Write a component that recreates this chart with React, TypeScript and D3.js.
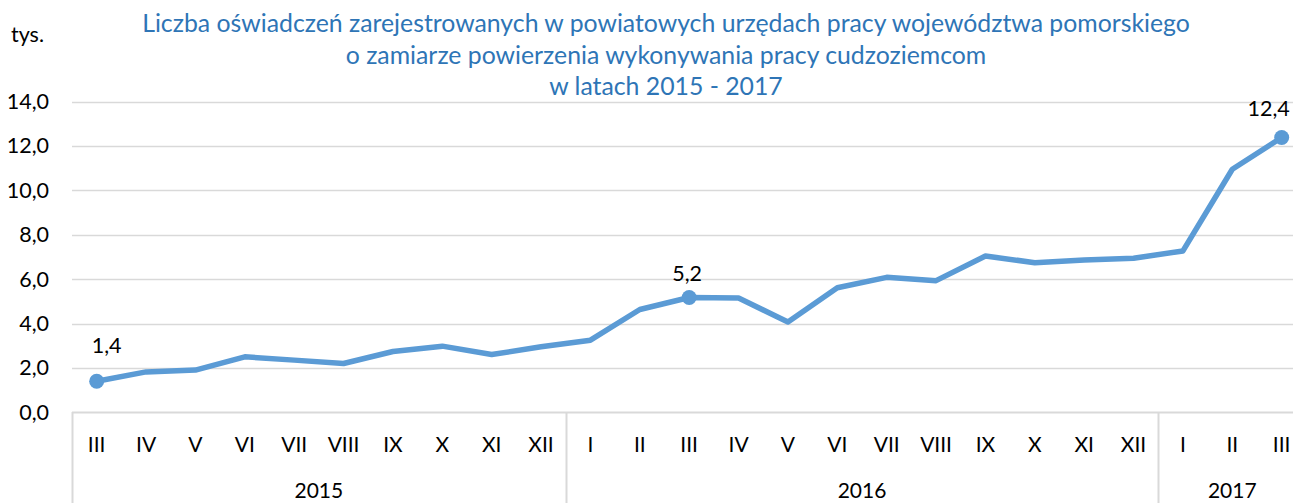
import React from "react";
import * as d3 from "d3";

const months: string[] = [
  "III", "IV", "V", "VI", "VII", "VIII", "IX", "X", "XI", "XII",
  "I", "II", "III", "IV", "V", "VI", "VII", "VIII", "IX", "X", "XI", "XII",
  "I", "II", "III",
];
const years: string[] = ["2015", "2016", "2017"];
const yearCounts: number[] = [10, 12, 3];
const values: number[] = [
  1.4, 1.82, 1.9, 2.5, 2.35, 2.2, 2.74, 2.98, 2.6, 2.95,
  3.25, 4.63, 5.17, 5.15, 4.07, 5.61, 6.08, 5.93, 7.04, 6.74, 6.86, 6.94,
  7.27, 10.95, 12.38,
];
const labelled: { index: number; text: string; dx: number; dy: number }[] = [
  { index: 0, text: "1,4", dx: 10, dy: -28 },
  { index: 12, text: "5,2", dx: -2, dy: -17 },
  { index: 24, text: "12,4", dx: -13, dy: -21 },
];
const yTicks: number[] = [0, 2, 4, 6, 8, 10, 12, 14];
const titleLines: string[] = [
  "Liczba oświadczeń zarejestrowanych w powiatowych urzędach pracy województwa pomorskiego",
  "o zamiarze powierzenia wykonywania pracy cudzoziemcom",
  "w latach 2015 - 2017",
];

const W = 1293;
const H = 503;
const FONT = "Lato, 'Open Sans', sans-serif";
const LINE = "#5B9BD5";
const GRID = "#d9d9d9";

export default function App() {
  const left = 72;
  const step = 49.375;
  const keys = months.map((_, i) => String(i));
  const x = d3
    .scaleBand<string>()
    .domain(keys)
    .range([left, left + step * months.length])
    .paddingInner(0)
    .paddingOuter(0);
  const y = d3.scaleLinear().domain([0, 14]).range([412.3, 101.5]);
  const cx = (i: number) => (x(String(i)) as number) + x.bandwidth() / 2;

  const line = d3
    .line<number>()
    .x((_, i) => cx(i))
    .y((d) => y(d));

  const fmt = (v: number) => v.toFixed(1).replace(".", ",");

  let acc = 0;
  const groups = years.map((yr, gi) => {
    const start = acc;
    acc += yearCounts[gi];
    return { yr, start, end: acc };
  });
  const rightEnd = left + step * months.length;
  const bandX = (i: number) =>
    i < months.length ? (x(String(i)) as number) : rightEnd;

  return (
    <svg
      width={W}
      height={H}
      style={{ position: "absolute", left: 0, top: 0, background: "#fff" }}
      fontFamily={FONT}
    >
      <rect x={0} y={0} width={W} height={H} fill="#fff" />
      {yTicks.map((t) => (
        <line
          key={t}
          x1={left}
          x2={W}
          y1={Math.round(y(t)) + 0.5}
          y2={Math.round(y(t)) + 0.5}
          stroke={GRID}
          strokeWidth={t === 0 ? 2 : 1.5}
        />
      ))}
      {yTicks.map((t) => (
        <text
          key={"l" + t}
          x={49}
          y={y(t)}
          dy="0.35em"
          textAnchor="end"
          fontSize={21.5}
          fill="#000"
        >
          {fmt(t)}
        </text>
      ))}
      <text x={11} y={42} fontSize={21.5} fill="#000">
        tys.
      </text>
      {titleLines.map((t, i) => (
        <text
          key={"t" + i}
          x={666}
          y={32 + i * 31.5}
          textAnchor="middle"
          fontSize={24.8}
          fill="#2E75B6"
        >
          {t}
        </text>
      ))}
      {groups.map((g, gi) => (
        <line
          key={"s" + gi}
          x1={Math.round(bandX(g.start)) + 0.5}
          x2={Math.round(bandX(g.start)) + 0.5}
          y1={412}
          y2={H}
          stroke={GRID}
          strokeWidth={2}
        />
      ))}
      {months.map((m, i) => (
        <text
          key={"m" + i}
          x={cx(i)}
          y={444.5}
          dy="0.35em"
          textAnchor="middle"
          fontSize={21}
          fill="#000"
        >
          {m}
        </text>
      ))}
      {groups.map((g) => (
        <text
          key={"y" + g.yr}
          x={(bandX(g.start) + Math.min(bandX(g.end), rightEnd)) / 2}
          y={491}
          dy="0.35em"
          textAnchor="middle"
          fontSize={21}
          fill="#000"
        >
          {g.yr}
        </text>
      ))}
      <path
        d={line(values) || ""}
        fill="none"
        stroke={LINE}
        strokeWidth={5.5}
        strokeLinejoin="round"
        strokeLinecap="round"
      />
      {labelled.map((l) => (
        <g key={"p" + l.index}>
          <circle cx={cx(l.index)} cy={y(values[l.index])} r={7.5} fill={LINE} />
          <text
            x={cx(l.index) + l.dx}
            y={y(values[l.index]) + l.dy}
            textAnchor="middle"
            fontSize={21.5}
            fill="#000"
          >
            {l.text}
          </text>
        </g>
      ))}
    </svg>
  );
}
